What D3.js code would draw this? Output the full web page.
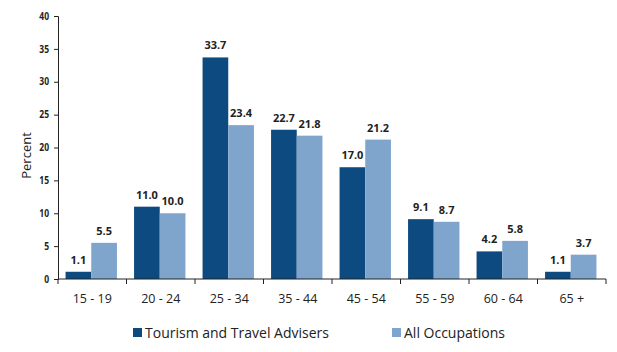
<!DOCTYPE html>
<html>
<head>
<meta charset="utf-8">
<script src="https://cdn.jsdelivr.net/npm/d3@7"></script>
<style>
  body { margin: 0; background: #fff; }
  text { font-family: "Open Sans", "Liberation Sans", sans-serif; }
</style>
</head>
<body>
<div id="chart"></div>
<script>
// age groups and the two series (percent)
const ageGroups = ["15 - 19", "20 - 24", "25 - 34", "35 - 44", "45 - 54", "55 - 59", "60 - 64", "65 +"]
const tourism = [1.1, 11.0, 33.7, 22.7, 17.0, 9.1, 4.2, 1.1]
const allOccupations = [5.5, 10.0, 23.4, 21.8, 21.2, 8.7, 5.8, 3.7]
const yTicks = [0, 5, 10, 15, 20, 25, 30, 35, 40]
const seriesNames = ["Tourism and Travel Advisers", "All Occupations"]

const W = 617, H = 352
var margin = { top: 16, right: 11, bottom: 73, left: 58 },
    width = W - margin.left - margin.right,
    height = H - margin.top - margin.bottom

const colors = ["#0d4a80", "#7fa5cc"]

const svg = d3.select("#chart").append("svg")
    .attr("width", W)
    .attr("height", H)

const g = svg.append("g")
    .attr("transform", "translate(" + margin.left + "," + margin.top + ")")

const x = d3.scaleBand()
    .domain(ageGroups)
    .range([0, width])
    .paddingInner(0.25)
    .paddingOuter(0.125)

const xSub = d3.scaleBand()
    .domain([0, 1])
    .range([0, x.bandwidth()])

const y = d3.scaleLinear()
    .domain([0, 40])
    .range([height, 0])

// bars
const rows = ageGroups.map((a, i) => ({ age: a, vals: [tourism[i], allOccupations[i]] }))

const groups = g.selectAll(".grp")
    .data(rows)
    .enter().append("g")
    .attr("class", "grp")
    .attr("transform", d => "translate(" + (x(d.age) - 1) + ",0)")

groups.selectAll("rect")
    .data(d => d.vals.map((v, k) => ({ v: v, k: k })))
    .enter().append("rect")
    .attr("x", d => xSub(d.k))
    .attr("y", d => y(d.v))
    .attr("width", xSub.bandwidth())
    .attr("height", d => height - y(d.v))
    .style("fill", d => colors[d.k])

groups.selectAll(".lbl")
    .data(d => d.vals.map((v, k) => ({ v: v, k: k })))
    .enter().append("text")
    .attr("class", "lbl")
    .attr("x", d => xSub(d.k) + xSub.bandwidth() / 2)
    .attr("y", d => y(d.v) - 8)
    .attr("text-anchor", "middle")
    .style("font-size", "11px")
    .style("font-weight", "bold")
    .style("fill", "#222")
    .text(d => d.v.toFixed(1))

// y axis
const yAxis = g.append("g")
    .call(d3.axisLeft(y).tickValues(yTicks).tickSize(4).tickPadding(5))
yAxis.select(".domain").attr("stroke", "#222")
yAxis.selectAll(".tick line").attr("stroke", "#222")
yAxis.selectAll("text")
    .style("font-size", "10px")
    .style("font-weight", "bold")
    .style("fill", "#222")
    .attr("transform", "scale(0.85,1)")
    .attr("x", -9 / 0.85)

// x axis with ticks between categories
const xAxis = g.append("g")
    .attr("transform", "translate(0," + height + ")")
xAxis.append("line")
    .attr("x1", 0).attr("x2", width)
    .attr("stroke", "#222")
const bounds = d3.range(ageGroups.length + 1).map(i => i * x.step())
xAxis.selectAll(".sep")
    .data(bounds)
    .enter().append("line")
    .attr("x1", d => d).attr("x2", d => d)
    .attr("y1", 0).attr("y2", 5)
    .attr("stroke", "#222")
xAxis.selectAll(".cat")
    .data(ageGroups)
    .enter().append("text")
    .attr("x", d => x(d) + x.bandwidth() / 2)
    .attr("y", 24)
    .attr("text-anchor", "middle")
    .style("font-size", "12.5px")
    .style("fill", "#222")
    .text(d => d)

// y label
svg.append("text")
    .attr("transform", "translate(31," + (margin.top + height / 2 + 8) + ") rotate(-90)")
    .attr("text-anchor", "middle")
    .style("font-size", "13px")
    .style("fill", "#222")
    .text("Percent")

// legend
const legendX = [133, 392]
const legend = svg.selectAll(".leg")
    .data(seriesNames)
    .enter().append("g")
    .attr("transform", (d, i) => "translate(" + legendX[i] + ",328)")
legend.append("rect")
    .attr("width", 9).attr("height", 9)
    .style("fill", (d, i) => colors[i])
legend.append("text")
    .attr("x", 12).attr("y", 10)
    .style("font-size", "14px")
    .style("fill", "#222")
    .text(d => d)
</script>
</body>
</html>
